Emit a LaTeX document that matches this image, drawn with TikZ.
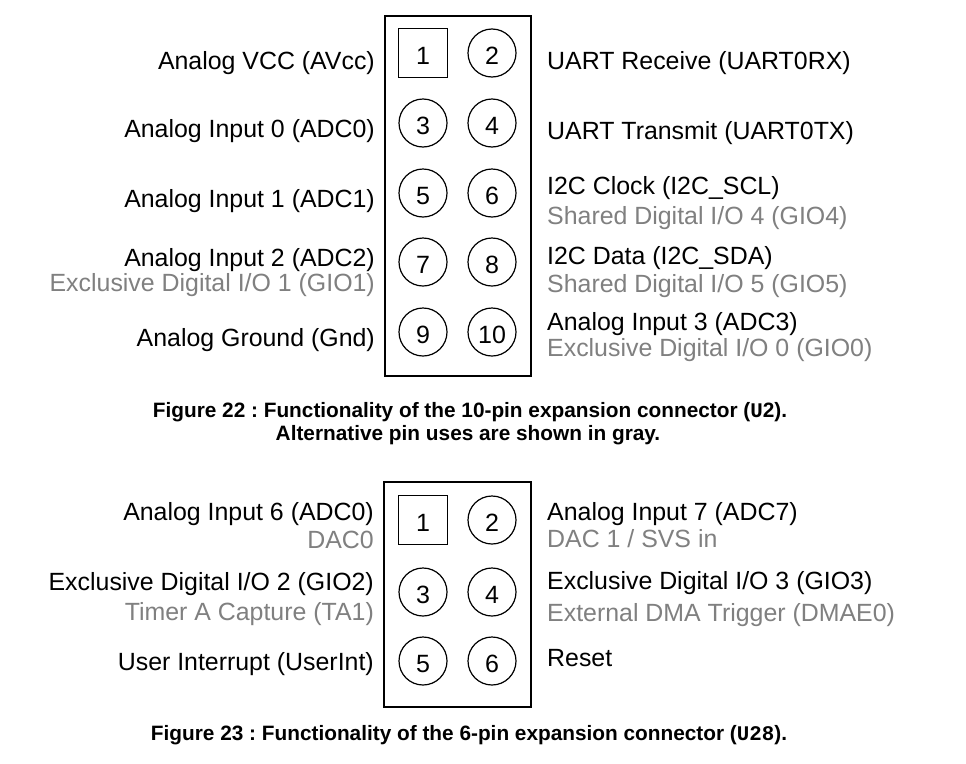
\documentclass[tikz,border=0pt]{standalone}
\usepackage{fontspec}
\setmainfont{Liberation Sans}
\newfontfamily\capmono{Liberation Mono}
\definecolor{altgray}{RGB}{128,128,128}
\frenchspacing
\tikzset{
  conbox/.style={draw, line width=1.5pt, inner sep=0pt},
  pinnum/.style={inner sep=0pt, text height=22pt, text depth=0pt, font=\fontsize{25}{27}\selectfont},
  sqpin/.style={pinnum, draw, line width=1.2pt, minimum size=49pt},
  rdpin/.style={pinnum, draw, circle, line width=1.2pt, minimum size=48pt},
  lab/.style={inner sep=0pt, font=\fontsize{24.9}{28}\selectfont},
  alt/.style={lab, text=altgray},
  figcap/.style={inner sep=0pt, font=\fontsize{20.8}{23}\selectfont\bfseries}
}
\begin{document}
\begin{tikzpicture}[x=1pt,y=-1pt]
\useasboundingbox[fill=white] (0,0) rectangle (966,763);
% ---------- 10-pin connector ----------
\node[conbox, minimum width=146pt, minimum height=360pt] (boxA) at (458,196) {};
\node[sqpin] (a1) at (423,53) {1};
\node[rdpin] (a2) at (492,53) {2};
\node[rdpin] (a3) at (423,123) {3};
\node[rdpin] (a4) at (492,123) {4};
\node[rdpin] (a5) at (423,193) {5};
\node[rdpin] (a6) at (492,193) {6};
\node[rdpin] (a7) at (423,262) {7};
\node[rdpin] (a8) at (492,262) {8};
\node[rdpin] (a9) at (423,332) {9};
\node[rdpin] (a10) at (492,332) {10};
% left labels
\node[lab, anchor=base east] (la1) at (375,69) {Analog VCC (AVcc)};
\node[lab, anchor=base east] (la3) at (375,137) {Analog Input 0 (ADC0)};
\node[lab, anchor=base east] (la5) at (375,207) {Analog Input 1 (ADC1)};
\node[lab, anchor=base east] (la7) at (375,266) {Analog Input 2 (ADC2)};
\node[alt, anchor=base east] (la7b) at (375,291) {Exclusive Digital I/O 1 (GIO1)};
\node[lab, anchor=base east] (la9) at (375,346) {Analog Ground (Gnd)};
% right labels
\node[lab, anchor=base west] (ra2) at (547,69) {UART Receive (UART0RX)};
\node[lab, anchor=base west] (ra4) at (547,139) {UART Transmit (UART0TX)};
\node[lab, anchor=base west] (ra6) at (547,194) {I2C Clock (I2C\_SCL)};
\node[alt, anchor=base west] (ra6b) at (547,224) {Shared Digital I/O 4 (GIO4)};
\node[lab, anchor=base west] (ra8) at (547,264) {I2C Data (I2C\_SDA)};
\node[alt, anchor=base west] (ra8b) at (547,292) {Shared Digital I/O 5 (GIO5)};
\node[lab, anchor=base west] (ra10) at (547,330) {Analog Input 3 (ADC3)};
\node[alt, anchor=base west] (ra10b) at (547,356) {Exclusive Digital I/O 0 (GIO0)};
% caption 22
\node[figcap, anchor=base] (c22a) at (470,417) {Figure 22 : Functionality of the 10-pin expansion connector ({\capmono\bfseries U}2).};
\node[figcap, anchor=base] (c22b) at (468,440) {Alternative pin uses are shown in gray.};
% ---------- 6-pin connector ----------
\node[conbox, minimum width=147pt, minimum height=225pt] (boxB) at (457.5,594.5) {};
\node[sqpin] (b1) at (423,520) {1};
\node[rdpin] (b2) at (492,520) {2};
\node[rdpin] (b3) at (423,592) {3};
\node[rdpin] (b4) at (492,592) {4};
\node[rdpin] (b5) at (423,661) {5};
\node[rdpin] (b6) at (492,661) {6};
% left labels
\node[lab, anchor=base east] (lb1) at (374,520) {Analog Input 6 (ADC0)};
\node[alt, anchor=base east] (lb1b) at (374,548) {DAC0};
\node[lab, anchor=base east] (lb3) at (374,590) {Exclusive Digital I/O 2 (GIO2)};
\node[alt, anchor=base east] (lb3b) at (374,620) {Timer A Capture (TA1)};
\node[lab, anchor=base east] (lb5) at (374,670) {User Interrupt (UserInt)};
% right labels
\node[lab, anchor=base west] (rb2) at (547,520) {Analog Input 7 (ADC7)};
\node[alt, anchor=base west] (rb2b) at (547,547) {DAC 1 / SVS in};
\node[lab, anchor=base west] (rb4) at (547,589) {Exclusive Digital I/O 3 (GIO3)};
\node[alt, anchor=base west] (rb4b) at (547,621) {External DMA Trigger (DMAE0)};
\node[lab, anchor=base west] (rb6) at (547,666) {Reset};
% caption 23
\node[figcap, anchor=base] (c23) at (469,740) {Figure 23 : Functionality of the 6-pin expansion connector ({\capmono\bfseries U28}).};
\end{tikzpicture}
\end{document}
